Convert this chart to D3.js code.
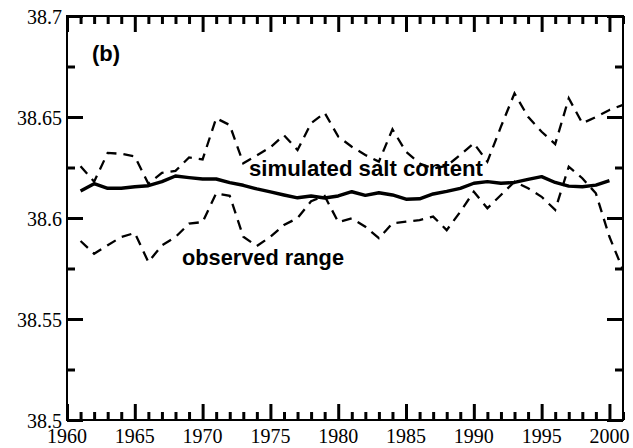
<!DOCTYPE html>
<html><head><meta charset="utf-8">
<script src="https://cdn.jsdelivr.net/npm/d3@7"></script>
<style>
body{margin:0;background:#fff}
svg{display:block}
</style>
</head><body>
<script>
const years = d3.range(1961, 2002);
const simulated = [38.6134,38.6170,38.6147,38.6147,38.6155,38.6160,38.6180,38.6208,38.6200,38.6193,
  38.6193,38.6175,38.6162,38.6144,38.6129,38.6114,38.6100,38.6109,38.6099,38.6109,
  38.6130,38.6112,38.6125,38.6114,38.6093,38.6095,38.6119,38.6132,38.6147,38.6172,
  38.6180,38.6172,38.6176,38.6191,38.6205,38.6176,38.6158,38.6155,38.6163,38.6185];
const observedHigh = [38.6256,38.6180,38.6322,38.6318,38.6305,38.6170,38.6223,38.6233,38.6300,38.6290,
  38.6494,38.6460,38.6271,38.6310,38.6350,38.6410,38.6337,38.6469,38.6521,38.6403,
  38.6353,38.6312,38.6279,38.6439,38.6328,38.6270,38.6245,38.6258,38.6312,38.6370,
  38.6279,38.6452,38.6617,38.6501,38.6427,38.6366,38.6593,38.6469,38.6500,38.6535,38.6560];
const observedLow = [38.5886,38.5823,38.5865,38.5906,38.5926,38.5782,38.5865,38.5906,38.5972,38.5980,
  38.6122,38.6110,38.5907,38.5861,38.5907,38.5965,38.6000,38.6083,38.6109,38.5980,
  38.5998,38.5957,38.5900,38.5974,38.5982,38.5990,38.6007,38.5940,38.6031,38.6130,
  38.6048,38.6114,38.6180,38.6147,38.6105,38.6040,38.6254,38.6197,38.6122,38.5907,38.5743];
const xTicks = [1960,1965,1970,1975,1980,1985,1990,1995,2000];
const yTicks = [38.5,38.55,38.6,38.65,38.7];
const yTickLabels = ["38.5","38.55","38.6","38.65","38.7"];

const W = 633, H = 448;
const L = 67, R = 623, T = 16, B = 420;
const svg = d3.select("body").append("svg").attr("width", W).attr("height", H);
const x = d3.scaleLinear().domain([1960, 2001]).range([L, R]);
const y = d3.scaleLinear().domain([38.5, 38.7]).range([B, T]);

const allX = d3.range(1960, 2002);
const allY = [38.5,38.525,38.55,38.575,38.6,38.625,38.65,38.675,38.7];
const xLen = v => (v % 5 === 0 ? 16 : 8);
const yLen = v => (Math.round(v * 1000) % 50 === 0 ? 16 : 8);
function styleAxis(g) {
  g.select(".domain").remove();
  g.selectAll("line").attr("stroke", "#000").attr("stroke-width", 3);
  g.selectAll("text").remove();
}
svg.append("g").attr("transform", `translate(0,${B})`)
  .call(d3.axisTop(x).tickValues(allX).tickSize(0)).call(styleAxis)
  .selectAll(".tick line").attr("y2", d => -xLen(d));
svg.append("g").attr("transform", `translate(0,${T})`)
  .call(d3.axisBottom(x).tickValues(allX).tickSize(0)).call(styleAxis)
  .selectAll(".tick line").attr("y2", d => xLen(d));
svg.append("g").attr("transform", `translate(${L},0)`)
  .call(d3.axisRight(y).tickValues(allY).tickSize(0)).call(styleAxis)
  .selectAll(".tick line").attr("x2", d => yLen(d));
svg.append("g").attr("transform", `translate(${R},0)`)
  .call(d3.axisLeft(y).tickValues(allY).tickSize(0)).call(styleAxis)
  .selectAll(".tick line").attr("x2", d => -yLen(d));

svg.append("rect").attr("x", L).attr("y", T).attr("width", R - L).attr("height", B - T)
  .attr("fill", "none").attr("stroke", "#000").attr("stroke-width", 2);

xTicks.forEach(v => {
  svg.append("text").attr("x", x(v)).attr("y", 443).attr("text-anchor", "middle")
    .attr("font-family", "Liberation Serif").attr("font-size", 20).text(String(v));
});
yTicks.forEach((v, i) => {
  svg.append("text").attr("x", 62).attr("y", y(v) + 8).attr("text-anchor", "end")
    .attr("font-family", "Liberation Serif").attr("font-size", 20).text(yTickLabels[i]);
});

const line = d3.line().x(d => x(d[0])).y(d => y(d[1]));
[observedHigh, observedLow].forEach(arr => {
  svg.append("path").datum(years.map((yr, i) => [yr, arr[i]]))
    .attr("d", line).attr("fill", "none").attr("stroke", "#000").attr("stroke-width", 2.3)
    .attr("stroke-dasharray", "10,7");
});
svg.append("path").datum(simulated.map((v, i) => [years[i], v]))
  .attr("d", line).attr("fill", "none").attr("stroke", "#000").attr("stroke-width", 3.4)
  .attr("stroke-linejoin", "round");

const sans = "Liberation Sans, Arial, Helvetica, sans-serif";
function label(tx, ty, len, s) {
  svg.append("text").attr("font-family", sans).attr("font-weight", "bold")
    .attr("x", tx).attr("y", ty).attr("font-size", 22)
    .attr("textLength", len).attr("lengthAdjust", "spacingAndGlyphs").text(s);
}
label(92, 61, 28, "(b)");
label(249, 176, 234, "simulated salt content");
label(182, 265, 162, "observed range");
</script>
</body></html>
